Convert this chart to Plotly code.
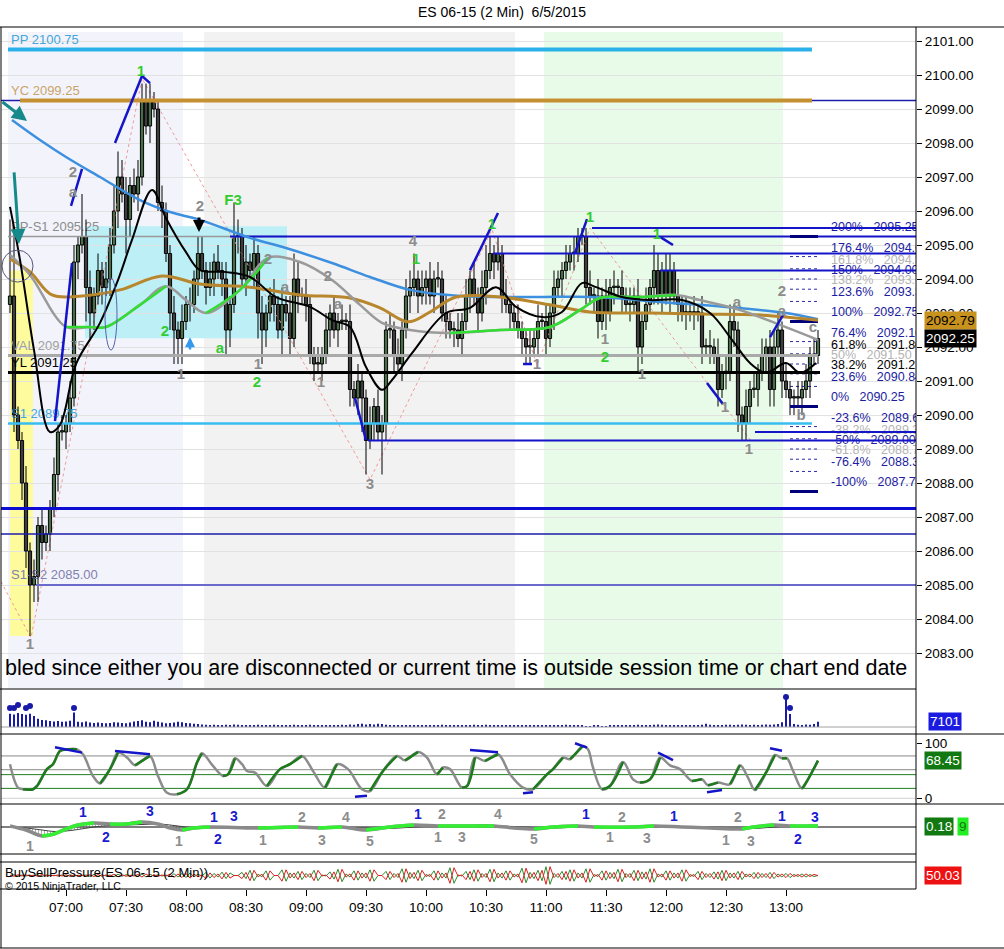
import pandas as pd
import plotly.graph_objects as go

DAY = "2015-06-05 "

# ---------------- price bars (2 min, first bar 06:32) ----------------
first_open = 2093.25
closes = [
    2093.5, 2090.0, 2089.25, 2088.0, 2086.0, 2085.0, 2085.25, 2086.75, 2086.25, 2086.5,
    2087.25, 2088.25, 2089.5, 2089.5, 2089.75, 2090.5, 2094.5, 2095.0, 2095.25, 2093.75,
    2093.0, 2093.5, 2094.25, 2093.75, 2094.0, 2095.0, 2096.0, 2097.0, 2096.5, 2095.75,
    2096.75, 2096.5, 2097.0, 2099.25, 2098.5, 2099.25, 2099.0, 2096.25, 2096.0, 2094.75,
    2093.0, 2092.5, 2092.25, 2092.75, 2093.25, 2093.25, 2094.0, 2094.75, 2094.25, 2093.75,
    2094.0, 2094.5, 2094.25, 2094.0, 2092.5, 2093.25, 2095.25, 2095.25, 2094.0, 2094.5,
    2094.25, 2094.75, 2093.0, 2092.5, 2093.0, 2093.5, 2093.25, 2092.5, 2093.25, 2093.0,
    2092.25, 2094.0, 2093.5, 2093.5, 2093.25, 2091.75, 2091.5, 2091.5, 2091.75, 2092.5,
    2093.0, 2092.5, 2092.75, 2092.75, 2092.75, 2090.75, 2090.5, 2091.0, 2090.5, 2089.25,
    2089.75, 2090.25, 2089.5, 2089.75, 2092.5, 2092.5, 2091.75, 2091.5, 2092.5, 2093.5,
    2093.75, 2094.0, 2093.5, 2093.75, 2094.0, 2093.5, 2094.0, 2094.0, 2093.0, 2092.75,
    2092.5, 2092.5, 2092.25, 2092.75, 2093.5, 2094.0, 2093.5, 2093.0, 2093.75, 2094.25,
    2094.75, 2094.5, 2094.75, 2093.5, 2093.25, 2093.0, 2092.75, 2092.5, 2092.25, 2092.0,
    2092.0, 2092.25, 2092.75, 2092.75, 2092.25, 2093.0, 2093.75, 2094.0, 2094.25, 2094.5,
    2094.75, 2094.75, 2095.25, 2095.25, 2093.75, 2093.5, 2093.5, 2092.75, 2093.5, 2093.0,
    2093.75, 2093.75, 2093.75, 2093.5, 2093.25, 2093.25, 2093.5, 2092.0, 2092.75, 2093.25,
    2093.75, 2094.25, 2093.5, 2094.25, 2093.5, 2094.25, 2093.5, 2093.25, 2093.0, 2093.0,
    2093.0, 2093.0, 2093.0, 2092.0, 2092.0, 2092.0, 2091.75, 2090.75, 2091.25, 2091.25,
    2092.75, 2092.5, 2090.0, 2089.75, 2090.25, 2090.75, 2090.75, 2091.25, 2091.75, 2092.0,
    2090.75, 2092.0, 2092.5, 2091.0, 2090.75, 2090.5, 2090.5, 2090.5, 2090.75, 2091.0,
    2091.75, 2091.75, 2092.25,
]
# wick lengths in ticks (0.25)
upper_ticks = [
    9, 8, 1, 1, 2, 1, 2, 1, 2, 1,  1, 2, 1, 2, 1, 2, 2, 1, 5, 2,
    2, 1, 2, 1, 2, 2, 3, 3, 2, 2,  1, 2, 2, 2, 2, 2, 1, 1, 2, 1,
    1, 2, 1, 2, 1, 2, 1, 2, 2, 1,  2, 1, 2, 1, 2, 1, 4, 2, 1, 2,
    1, 2, 1, 2, 1, 1, 2, 1, 2, 1,  2, 3, 2, 1, 2, 1, 1, 2, 1, 2,
    1, 2, 1, 2, 1, 2, 1, 2, 1, 1,  2, 1, 2, 1, 1, 2, 1, 2, 1, 2,
    2, 3, 1, 2, 1, 2, 1, 2, 1, 2,  1, 1, 2, 1, 2, 1, 2, 1, 2, 3,
    2, 1, 2, 1, 2, 1, 1, 2, 1, 1,  2, 1, 2, 1, 2, 1, 2, 1, 1, 2,
    1, 2, 1, 1, 1, 2, 1, 2, 1, 2,  1, 2, 1, 2, 1, 2, 1, 2, 1, 2,
    1, 3, 2, 1, 2, 2, 1, 2, 1, 2,  1, 2, 1, 2, 1, 2, 1, 2, 1, 2,
    2, 2, 1, 1, 2, 1, 2, 1, 2, 1,  2, 2, 2, 1, 2, 1, 1, 2, 1, 2,
    1, 2, 1,
]
lower_ticks = [
    1, 2, 1, 2, 2, 6, 2, 3, 2, 1,  2, 1, 2, 1, 2, 1, 1, 2, 1, 4,
    3, 2, 1, 2, 1, 2, 1, 2, 1, 4,  2, 1, 2, 1, 1, 2, 1, 1, 2, 1,
    2, 4, 3, 3, 1, 2, 1, 2, 1, 2,  1, 2, 1, 2, 3, 2, 1, 2, 1, 2,
    1, 2, 3, 4, 2, 1, 2, 1, 3, 1,  2, 1, 2, 1, 2, 1, 2, 1, 2, 1,
    2, 1, 2, 1, 1, 2, 1, 2, 4, 4,  1, 2, 1, 5, 2, 1, 2, 1, 2, 1,
    2, 1, 2, 1, 2, 1, 2, 1, 1, 2,  1, 2, 1, 2, 1, 2, 1, 2, 1, 2,
    1, 2, 1, 2, 1, 2, 1, 1, 2, 2,  2, 1, 2, 1, 2, 1, 2, 1, 2, 1,
    1, 2, 1, 1, 2, 1, 2, 2, 1, 2,  1, 2, 1, 2, 1, 2, 1, 3, 2, 1,
    1, 2, 1, 2, 1, 2, 1, 2, 1, 2,  1, 2, 1, 2, 1, 2, 1, 2, 1, 2,
    1, 2, 2, 2, 2, 2, 1, 2, 1, 2,  2, 2, 1, 2, 1, 2, 2, 1, 2, 1,
    2, 1, 1,
]
volume = [
    18000, 17000, 19000, 17500, 16500, 18000, 15000, 11000, 9500, 9000,
    8000, 7500, 8000, 7000, 7500, 8500, 19500, 7000, 6500, 7500,
    6000, 5500, 6000, 5500, 5000, 5500, 6500, 6000, 5500, 5000,
    6000, 7500, 8000, 9000, 7000, 6500, 8500, 7000, 6000, 5000,
    5500, 6000, 7000, 6500, 5500, 5000, 4500, 4000, 3500, 3000,
    2500, 3000, 2500, 2000, 3000, 2500, 3500, 3000, 2500, 2000,
    2500, 2000, 3000, 2500, 2000, 2500, 3000, 2000, 2500, 2000,
    2500, 3000, 2500, 2000, 2500, 3000, 2500, 2000, 1500, 2000,
    2500, 2000, 2500, 3000, 2500, 3500, 3000, 4000, 4500, 3500,
    4000, 3500, 4500, 4000, 3000, 2500, 2000, 2500, 2000, 2500,
    2000, 2500, 2000, 1500, 2000, 2500, 2000, 2500, 3000, 2500,
    2000, 1500, 2000, 2500, 2000, 2500, 3000, 2500, 2000, 3000,
    2500, 2000, 1500, 2000, 2500, 2000, 1500, 2000, 2500, 2000,
    1500, 2000, 2500, 2000, 1500, 2000, 2500, 2000, 2500, 3000,
    2500, 2000, 1500, 2000, 1000, 500, 1500, 2000, 1000, 500,
    1500, 2000, 2500, 2000, 1500, 2000, 2500, 3000, 2500, 2000,
    2500, 3000, 3500, 3000, 2500, 2000, 2500, 2000, 1500, 2000,
    2500, 2000, 2500, 3000, 4500, 3000, 2500, 2000, 2500, 3000,
    3000, 2500, 3000, 3500, 3000, 2500, 3000, 2500, 3000, 3500,
    3000, 3500, 4000, 6500, 40500, 17500, 4000, 3000, 2500, 3500,
    3000, 4000, 7101,
]
vol_dot_t = ["06:32", "06:34", "06:36", "06:40", "06:42", "07:04", "13:00", "13:02"]
vol_dot_v = [25700, 25700, 29700, 25700, 28400, 25700, 40500, 25700]

bsp_buy = [
    50, 53, 47, 52, 48, 51, 49, 53, 46, 52, 49, 51, 48, 52, 47, 53, 48, 51, 49, 52,
    47, 54, 46, 53, 48, 52, 45, 55, 47, 53, 49, 52, 46, 56, 44, 55, 47, 53, 48, 52,
    45, 57, 44, 58, 42, 60, 45, 55, 48, 62, 40, 58, 44, 63, 38, 60, 50, 50, 62, 38,
    70, 30, 55, 45, 68, 32, 50, 50, 72, 28, 60, 40, 66, 34, 58, 42, 70, 30, 52, 48,
    64, 36, 74, 26, 56, 44, 68, 32, 60, 40, 72, 28, 50, 50, 66, 34, 58, 42, 76, 24,
    62, 38, 70, 30, 54, 46, 68, 32, 60, 40, 80, 20, 52, 48, 66, 34, 72, 28, 58, 42,
    74, 26, 60, 40, 68, 32, 56, 44, 78, 22, 62, 38, 70, 30, 84, 16, 58, 42, 66, 34,
    72, 28, 60, 40, 76, 24, 54, 46, 68, 32, 62, 38, 74, 26, 58, 42, 70, 30, 64, 36,
    76, 24, 56, 44, 68, 32, 60, 40, 72, 28, 54, 46, 66, 34, 58, 42, 64, 36, 70, 30,
    60, 40, 66, 34, 56, 44, 62, 38, 58, 42, 62, 38, 56, 44, 58, 42, 54, 46, 56, 44,
    54, 46, 50,
]

# ---------------- moving averages ----------------
ma_blue_t = ["06:33", "06:47", "07:00", "07:17", "07:37", "07:52", "08:07", "08:32", "08:50", "09:13",
             "09:32", "09:52", "10:18", "10:52", "11:25", "11:58", "12:30", "13:00", "13:16"]
ma_blue_p = [2098.68, 2098.09, 2097.59, 2097.0, 2096.32, 2095.97, 2095.74, 2095.21, 2094.91, 2094.47,
             2094.06, 2093.68, 2093.5, 2093.47, 2093.47, 2093.32, 2093.18, 2093.0, 2092.82]
ma_gold_t = ["06:32", "06:42", "06:53", "07:08", "07:27", "07:48", "08:07", "08:32", "08:57", "09:22",
             "09:37", "09:51", "10:02", "10:15", "10:37", "11:02", "11:22", "11:52", "12:17", "12:47", "13:16"]
ma_gold_p = [2094.59, 2094.21, 2093.53, 2093.5, 2093.68, 2094.09, 2093.85, 2093.76, 2093.53, 2093.44,
             2093.15, 2092.74, 2093.03, 2093.47, 2093.47, 2093.24, 2093.03, 2093.0, 2092.97, 2092.94, 2092.79]
ma_slow_t = ["06:32", "06:42", "07:00", "07:12", "07:20", "07:37", "07:50", "08:00", "08:10", "08:27",
             "08:41", "08:57", "09:13", "09:27", "09:38", "09:52", "10:12", "10:37", "11:02", "11:17",
             "11:27", "11:47", "12:05", "12:17", "12:37", "12:57", "13:16"]
ma_slow_p = [2094.71, 2094.12, 2092.59, 2092.59, 2092.59, 2093.24, 2093.79, 2093.38, 2093.0, 2093.68,
             2094.62, 2094.5, 2093.97, 2093.24, 2092.71, 2092.5, 2092.41, 2092.5, 2092.59, 2093.09,
             2093.44, 2093.47, 2093.53, 2093.38, 2093.09, 2092.65, 2092.21]
ma_fast_t = ["06:32", "06:37", "06:44", "06:52", "06:57", "07:05", "07:17", "07:26", "07:33", "07:43",
             "07:50", "08:00", "08:07", "08:19", "08:32", "08:45", "09:02", "09:13", "09:22", "09:30",
             "09:38", "09:43", "09:53", "10:10", "10:22", "10:35", "10:45", "10:58", "11:08", "11:18",
             "11:25", "11:38", "11:52", "12:08", "12:22", "12:33", "12:42", "12:50", "13:00", "13:07", "13:15"]
ma_fast_p = [2096.12, 2094.56, 2091.91, 2089.5, 2089.71, 2091.5, 2092.71, 2093.97, 2095.15, 2096.62,
             2095.79, 2094.79, 2094.26, 2094.21, 2094.06, 2093.47, 2093.18, 2092.79, 2092.59, 2091.41,
             2090.74, 2091.03, 2091.82, 2093.0, 2093.15, 2093.76, 2093.18, 2092.88, 2093.03, 2093.88,
             2093.76, 2093.47, 2093.38, 2093.38, 2093.0, 2092.21, 2091.53, 2091.24, 2091.53, 2091.24, 2091.53]

# ---------------- horizontal levels ----------------
lvl_price = [2099.25, 2100.75, 2099.25, 2095.25, 2095.25, 2094.75, 2095.5, 2094.25, 2089.25, 2089.5,
             2089.75, 2091.75, 2091.25, 2087.25, 2086.5, 2085.0]
lvl_t0 = ["06:27:30", "06:31", "06:37", "06:31", "08:22", "10:33:30", "11:23", "11:57", "09:31", "12:44:30",
          "06:31", "06:31", "06:31", "06:27:30", "06:27:30", "06:45"]
lvl_t1 = ["14:05", "13:13", "13:13", "08:50:30", "14:05", "14:05", "14:05", "14:05", "14:05", "14:05",
          "13:13", "13:16", "13:17", "14:05", "14:05", "14:05"]
lvl_kind = ["navy_thin", "pp", "yc", "pps1", "navy", "navy", "navy", "navy", "navy", "navy",
            "s1", "val", "yl", "navy_thick", "navy_thin", "s2"]

lvl_lab_text = ["PP 2100.75", "YC 2099.25", "PP-S1 2095.25", "VAL 2091.75", "YL 2091.25", "S1 2089.75", "S1-S2 2085.00"]
lvl_lab_price = [2100.75, 2099.25, 2095.25, 2091.75, 2091.25, 2089.75, 2085.0]
lvl_lab_kind = ["pp", "yc", "pps1", "val", "yl", "s1", "s2"]

# fibonacci block on the right
fib_pct = ["200%", "176.4%", "161.8%", "150%", "138.2%", "123.6%", "100%", "76.4%", "61.8%", "50%",
           "38.2%", "23.6%", "0%", "-23.6%", "-38.2%", "-50%", "-61.8%", "-76.4%", "-100%"]
fib_level = [2095.25, 2094.66, 2094.30, 2094.00, 2093.70, 2093.34, 2092.75, 2092.16, 2091.80, 2091.50,
             2091.21, 2090.84, 2090.25, 2089.66, 2089.30, 2089.00, 2088.70, 2088.34, 2087.75]

# shaded sessions
region_t0 = ["06:31", "08:09", "10:59"]
region_t1 = ["07:58:30", "10:44:30", "12:58:30"]
region_kind = ["lavender", "grey", "green"]

# swing trend segments (navy)
seg_t0 = ["07:24:30", "07:38", "07:02:30", "06:54:30", "10:22", "11:14:30", "09:24:30", "10:48:30", "11:57", "12:20:30", "12:52"]
seg_p0 = [2098.0, 2099.97, 2096.15, 2089.82, 2094.26, 2094.76, 2090.5, 2091.5, 2095.24, 2090.94, 2092.29]
seg_t1 = ["07:38", "07:42", "07:08", "07:03", "10:36", "11:20:30", "09:30", "10:53", "12:03:30", "12:28:30", "12:58:30"]
seg_p1 = [2099.97, 2099.76, 2097.24, 2094.47, 2095.94, 2095.76, 2089.26, 2091.5, 2095.0, 2090.32, 2092.94]

zig_t = ["06:27:30", "06:42:30", "07:38", "09:32", "10:33", "10:55:30", "11:22", "12:43"]
zig_p = [2085.1, 2083.45, 2099.9, 2088.1, 2095.45, 2091.47, 2095.5, 2089.2]

lab_t = ["07:37:30", "07:03:30", "07:03:30", "08:07", "08:23:30", "08:41", "08:49:30", "09:11", "09:16", "07:49:30",
         "08:17", "07:57:30", "08:36", "08:35:30", "09:07:30", "09:32", "09:53:30", "09:55", "10:33", "10:55:30",
         "11:22", "11:29:30", "11:29:30", "11:48", "11:55:30", "12:29:30", "12:41:30", "12:35:30", "12:58", "12:58",
         "13:13:30", "13:07:30", "06:42"]
lab_p = [2100.09, 2097.12, 2096.53, 2096.12, 2096.29, 2094.56, 2093.74, 2094.06, 2093.24, 2092.44,
         2091.94, 2091.18, 2091.47, 2090.94, 2090.94, 2087.94, 2095.09, 2094.56, 2095.59, 2091.47,
         2095.79, 2092.21, 2091.68, 2091.18, 2095.29, 2090.21, 2088.97, 2093.29, 2093.62, 2093.03,
         2092.56, 2089.97, 2083.24]
lab_s = ["1", "2", "a", "2", "F3", "2", "a", "2", "a", "2", "a", "1", "1", "2", "1", "3", "4", "1", "1", "1",
         "1", "1", "2", "1", "1", "1", "1", "a", "2", "a", "c", "b", "1"]
lab_k = ["g", "n", "n", "n", "g", "n", "n", "n", "n", "g", "g", "n", "n", "g", "n", "n", "n", "g", "g", "n",
         "g", "n", "g", "n", "g", "n", "n", "n", "n", "n", "n", "n", "n"]

arrow_head_t = ["06:40:30", "06:36:30", "08:06:30", "08:02"]
arrow_head_p = [2098.65, 2095.03, 2095.38, 2092.29]
arrow_tail_t = ["06:27:30", "06:34", "08:06:30", "08:02"]
arrow_tail_p = [2099.24, 2097.18, 2095.85, 2091.88]
arrow_kind = ["teal", "teal", "black", "blue"]

# ---------------- oscillator panel ----------------
osc_t = ["06:32", "06:36", "06:38:30", "06:43:30", "06:45:30", "06:50:30", "06:53:30", "06:57", "07:00:30", "07:05:30",
         "07:08:30", "07:13:30", "07:17", "07:22", "07:26", "07:30:30", "07:34:30", "07:38", "07:42", "07:46",
         "07:50:30", "07:55:30", "08:00:30", "08:05:30", "08:08", "08:13:30", "08:18:30", "08:21", "08:24:30", "08:28",
         "08:30:30", "08:34:30", "08:40:30", "08:47", "08:52", "08:58", "09:03:30", "09:09:30", "09:15:30", "09:21",
         "09:28", "09:32", "09:38:30", "09:45:30", "09:49:30", "09:56", "10:00:30", "10:05:30", "10:08:30", "10:12",
         "10:18", "10:20:30", "10:24:30", "10:29:30", "10:36", "10:42", "10:48:30", "10:53:30", "11:00:30", "11:03:30",
         "11:08:30", "11:12", "11:18:30", "11:21", "11:23:30", "11:28", "11:32", "11:38:30", "11:43:30", "11:47",
         "11:52", "11:57", "12:02", "12:07", "12:13", "12:18", "12:21", "12:26", "12:32", "12:37",
         "12:41", "12:44:30", "12:50:30", "12:54:30", "12:58", "13:00:30", "13:03:30", "13:08", "13:11", "13:16"]
osc_v = [61.8, 19.4, 16.4, 16.4, 22.4, 53, 62, 86, 89, 89,
         80, 40.6, 27, 53, 83, 74, 60, 68, 77, 40.6,
         10, 7.3, 16.4, 65, 81.8, 58.8, 40.6, 43.6, 72.7, 62,
         49.7, 46.7, 22.4, 53, 62, 77, 49.7, 19.4, 61.8, 53,
         16.4, 13.3, 49.7, 77, 69, 84, 74, 43.6, 56, 53,
         19.4, 22, 74, 68, 80, 43.6, 19.4, 16.4, 43.6, 53,
         74, 71, 95, 89, 56, 16.4, 22.4, 66, 34.5, 28.5,
         34.5, 74, 60, 53, 31.5, 34.5, 23.6, 28.5, 25.5, 60,
         37.6, 15, 50, 78.8, 72.7, 72.7, 50, 17.6, 34.5, 68.45]
osc_levels = [77, 52, 43, 18, 0]
osc_level_kind = ["grey", "grey", "green", "green", "faint"]
osd_t0 = ["06:54:30", "07:24:30", "09:24:30", "10:22", "10:48:30", "11:14:30", "11:56", "12:20:30", "12:52"]
osd_v0 = [92.7, 86, 3, 88, 9, 100, 83, 11, 91]
osd_t1 = ["07:08", "07:42", "09:30:30", "10:36", "10:53:30", "11:20:30", "12:03:30", "12:28", "12:58"]
osd_v1 = [83, 80, 4.7, 83.6, 11, 92, 69.6, 15, 86.5]

# ---------------- macd-like panel ----------------
macd_t = ["06:32", "06:40", "06:48", "06:54", "07:00", "07:06", "07:14", "07:22", "07:30", "07:38",
          "07:46", "07:52", "07:58", "08:04", "08:12", "08:36", "08:56", "09:06", "09:18", "09:30",
          "09:42", "09:54", "10:06", "10:18", "10:34", "10:44", "10:54", "11:04", "11:16", "11:24",
          "11:44", "11:54", "12:08", "12:22", "12:38", "12:44", "12:54", "13:02", "13:16"]
macd_v = [1, -3, -9, -7, -2, 2, 4, 3, 3, 5, 3, -1, -3, -1, 0, -1, 0, -1, 0, -3,
          0, 2, 1, 1, 1, -1, -2, 0, 1, 0, 0, 1, 0, -1, -2, 0, 2, 1, 1]
macd_sig = [0, -1, -3, -4.5, -4, -2.5, 0, 1.5, 2, 2.5, 3, 2, 0.5, -1, -1, -0.5, -0.5, -0.5, -0.5, -1,
            -1.5, 0, 1, 1, 1, 0.5, -0.5, -1, 0, 0.5, 0, 0, 0.5, 0, -1, -1.5, 0, 1, 1]
mlab_t = ["06:42", "07:08:30", "07:20", "07:42", "07:56:30", "08:14", "08:24", "08:16", "08:38:30", "08:58",
          "09:08", "09:20", "09:32", "09:56", "10:08", "10:06", "10:18", "10:36", "10:54", "11:20",
          "11:38", "11:32", "11:50:30", "12:04", "12:36", "12:30", "12:42:30", "12:58", "13:14:30", "13:06"]
mlab_v = [-20, 14, -11, 15, -15, 9, 10, -13, -14, 9, -14, 9, -15, 12, 12, -11, -11, 12, -13, 12,
          9, -11, -12, 10, 9, -14, -15, 10, 9, -13]
mlab_s = ["1", "1", "2", "3", "1", "1", "3", "2", "1", "2", "3", "4", "5", "1", "2", "1", "3", "4", "5", "1",
          "2", "1", "3", "1", "2", "1", "3", "1", "3", "2"]
mlab_k = ["n", "b", "b", "b", "n", "b", "b", "b", "n", "n", "n", "n", "n", "b", "n", "n", "n", "n", "n", "b",
          "n", "n", "n", "b", "n", "n", "n", "b", "b", "b"]

x_ticks = ["07:00", "07:30", "08:00", "08:30", "09:00", "09:30", "10:00", "10:30", "11:00", "11:30",
           "12:00", "12:30", "13:00"]

FONT = "Liberation Sans, Arial, sans-serif"
NAVY = "#1414c8"
GREEN_TXT = "#33cc33"
GREY_TXT = "#8c8c8c"

assert len(closes) == len(upper_ticks) == len(lower_ticks) == len(volume) == len(bsp_buy)


def when(lst):
    return [DAY + s for s in lst]


def px_x(px):
    return (px - 1) / 915.0


def px_y(py):
    return (889 - py) / 862.0


def runs(xs, ys, want_up):
    ox, oy = [], []
    inside = False
    for i in range(1, len(ys)):
        up = ys[i] >= ys[i - 1]
        if up == want_up:
            if not inside:
                if ox:
                    ox.append(None)
                    oy.append(None)
                ox.append(xs[i - 1])
                oy.append(ys[i - 1])
            ox.append(xs[i])
            oy.append(ys[i])
            inside = True
        else:
            inside = False
    return ox, oy


def segs(t0, v0, t1, v1):
    xs, ys = [], []
    for a, b, c, d in zip(t0, v0, t1, v1):
        xs += [DAY + a, DAY + c, None]
        ys += [b, d, None]
    return xs, ys


bar_times = pd.date_range(DAY + "06:32", periods=len(closes), freq="2min")
opens = [first_open] + closes[:-1]
highs = [max(o, c) + 0.25 * u for o, c, u in zip(opens, closes, upper_ticks)]
lows = [min(o, c) - 0.25 * d for o, c, d in zip(opens, closes, lower_ticks)]

P_MIN, P_MAX = 2081.971, 2101.412

fig = go.Figure()

# level labels (sit behind candles)
LAB_COL = {"pp": "#43a6dc", "yc": "#c9a46a", "pps1": "#8c8c8c", "val": "#a0a0a0",
           "yl": "#000000", "s1": "#43a6dc", "s2": "#8080b0"}
fig.add_trace(go.Scatter(
    x=[DAY + "06:32:30"] * len(lvl_lab_text), y=[p + 0.26 for p in lvl_lab_price], mode="text",
    text=lvl_lab_text, textposition="middle right",
    textfont=dict(family=FONT, size=13, color=[LAB_COL[k] for k in lvl_lab_kind]), hoverinfo="skip"))

# zigzag
fig.add_trace(go.Scatter(x=when(zig_t), y=zig_p, mode="lines",
                         line=dict(color="#f19a9a", width=1, dash="dot"), hoverinfo="skip"))

# fib block
THICK = {"200%", "100%", "0%", "-100%"}
GREY_FIB = {"161.8%", "138.2%", "50%", "-38.2%", "-61.8%"}
BLACK_FIB = {"61.8%", "38.2%"}
fx_thick, fy_thick, fx_dot, fy_dot = [], [], [], []
for pct, lv in zip(fib_pct, fib_level):
    if pct in THICK:
        fx_thick += [DAY + "13:02", DAY + "13:16", None]
        fy_thick += [lv, lv, None]
    else:
        fx_dot += [DAY + "13:02", DAY + "13:16", None]
        fy_dot += [lv, lv, None]
fig.add_trace(go.Scatter(x=fx_dot, y=fy_dot, mode="lines", line=dict(color="#2a2aa0", width=1, dash="dot"),
                         hoverinfo="skip"))
fib_cols = ["#b4b4b4" if p in GREY_FIB else ("#000000" if p in BLACK_FIB else "#1c1ca0") for p in fib_pct]
fig.add_trace(go.Scatter(
    x=[DAY + "13:22:30"] * len(fib_pct), y=[lv + 0.24 for lv in fib_level], mode="text",
    text=[f"{p}\u00a0\u00a0 {lv:.2f}" for p, lv in zip(fib_pct, fib_level)], textposition="middle right",
    textfont=dict(family=FONT, size=12.5, color=fib_cols), cliponaxis=True, hoverinfo="skip"))

# candles: wicks + bodies
wx, wy = [], []
for t, h, l in zip(bar_times, highs, lows):
    wx += [t, t, None]
    wy += [l, h, None]
fig.add_trace(go.Scatter(x=wx, y=wy, mode="lines", line=dict(color="#000000", width=1), hoverinfo="skip"))
body_base = [min(o, c) for o, c in zip(opens, closes)]
body_h = [max(abs(c - o), 0.04) for o, c in zip(opens, closes)]
body_col = ["#8fd98f" if c >= o else "#7a7a7a" for o, c in zip(opens, closes)]
fig.add_trace(go.Bar(x=bar_times, y=body_h, base=body_base, width=95000,
                     marker=dict(color=body_col, line=dict(color="#000000", width=1)), hoverinfo="skip"))

# level lines (drawn over the bars like in the chart)
LVL_STYLE = {
    "pp": ("#2ab1ea", 4), "yc": ("#c49030", 4), "navy_thin": ("#1c1caa", 1.3), "pps1": ("#999999", 1.5),
    "navy": (NAVY, 2), "navy_thick": ("#0c0cd2", 3), "s1": ("#38bdf0", 2.5), "val": ("#aaaaaa", 3),
    "yl": ("#000000", 3), "s2": ("#6a6acc", 2),
}
for p, a, b, k in zip(lvl_price, lvl_t0, lvl_t1, lvl_kind):
    col, w = LVL_STYLE[k]
    fig.add_trace(go.Scatter(x=[DAY + a, DAY + b], y=[p, p], mode="lines",
                             line=dict(color=col, width=w), hoverinfo="skip"))
fig.add_trace(go.Scatter(x=fx_thick, y=fy_thick, mode="lines", line=dict(color="#00007a", width=3),
                         hoverinfo="skip"))

# moving averages
fig.add_trace(go.Scatter(x=when(ma_blue_t), y=ma_blue_p, mode="lines",
                         line=dict(color="#3d8fe0", width=2.5, shape="spline"), hoverinfo="skip"))
fig.add_trace(go.Scatter(x=when(ma_gold_t), y=ma_gold_p, mode="lines",
                         line=dict(color="#b8862c", width=3, shape="spline"), hoverinfo="skip"))
fig.add_trace(go.Scatter(x=when(ma_slow_t), y=ma_slow_p, mode="lines",
                         line=dict(color="#9a9a9a", width=2.5, shape="spline"), hoverinfo="skip"))
gx, gy = runs(when(ma_slow_t), ma_slow_p, True)
fig.add_trace(go.Scatter(x=gx, y=gy, mode="lines",
                         line=dict(color="#33dd33", width=2.5, shape="spline"), hoverinfo="skip"))
fig.add_trace(go.Scatter(x=when(ma_fast_t), y=ma_fast_p, mode="lines",
                         line=dict(color="#000000", width=2, shape="spline"), hoverinfo="skip"))

# navy swing segments
sx, sy = segs(seg_t0, seg_p0, seg_t1, seg_p1)
fig.add_trace(go.Scatter(x=sx, y=sy, mode="lines", line=dict(color=NAVY, width=2.5), hoverinfo="skip"))

# swing labels
fig.add_trace(go.Scatter(
    x=when(lab_t), y=lab_p, mode="text", text=lab_s, textposition="middle center",
    textfont=dict(family=FONT, size=15, weight="bold",
                  color=[GREEN_TXT if k == "g" else GREY_TXT for k in lab_k]),
    hoverinfo="skip"))

# ---------- volume ----------
fig.add_trace(go.Scatter(x=[DAY + "06:27:30", DAY + "14:05"], y=[0, 0], yaxis="y2", mode="lines",
                         line=dict(color="#a0a0a0", width=1), hoverinfo="skip"))
fig.add_trace(go.Bar(x=bar_times, y=volume, yaxis="y2", width=50000, marker=dict(color="#1a1aa8", line_width=0),
                     hoverinfo="skip"))
fig.add_trace(go.Scatter(x=when(vol_dot_t), y=vol_dot_v, yaxis="y2", mode="markers",
                         marker=dict(color="#1a1aa8", size=6), hoverinfo="skip"))

# ---------- oscillator ----------
OSC_COL = {"grey": "#8a8a8a", "green": "#1f7f1f", "faint": "#d0d0d0"}
for v, k in zip(osc_levels, osc_level_kind):
    fig.add_trace(go.Scatter(x=[DAY + "06:27:30", DAY + "14:05"], y=[v, v], yaxis="y3", mode="lines",
                             line=dict(color=OSC_COL[k], width=1), hoverinfo="skip"))
fig.add_trace(go.Scatter(x=when(osc_t), y=osc_v, yaxis="y3", mode="lines",
                         line=dict(color="#8c8c8c", width=2.5, shape="spline"), hoverinfo="skip"))
ox, oy = runs(when(osc_t), osc_v, True)
fig.add_trace(go.Scatter(x=ox, y=oy, yaxis="y3", mode="lines",
                         line=dict(color="#1d7a1d", width=2.5, shape="spline"), hoverinfo="skip"))
dx, dy = segs(osd_t0, osd_v0, osd_t1, osd_v1)
fig.add_trace(go.Scatter(x=dx, y=dy, yaxis="y3", mode="lines", line=dict(color=NAVY, width=2.5),
                         hoverinfo="skip"))

# ---------- macd ----------
fig.add_trace(go.Scatter(x=[DAY + "06:27:30", DAY + "14:05"], y=[0, 0], yaxis="y4", mode="lines",
                         line=dict(color="#000000", width=1), hoverinfo="skip"))
fig.add_trace(go.Scatter(x=when(macd_t), y=macd_sig, yaxis="y4", mode="lines",
                         line=dict(color="#444444", width=1, shape="spline"), hoverinfo="skip"))
fig.add_trace(go.Scatter(x=when(macd_t), y=macd_v, yaxis="y4", mode="lines", fill="tonexty",
                         fillcolor="rgba(0,0,0,0)",
                         fillpattern=dict(shape="|", fgcolor="#555555", size=3, solidity=0.35),
                         line=dict(width=0, shape="spline"), hoverinfo="skip"))
fig.add_trace(go.Scatter(x=when(macd_t), y=macd_v, yaxis="y4", mode="lines",
                         line=dict(color="#8a8a8a", width=3.5, shape="spline"), hoverinfo="skip"))
mx, my = runs(when(macd_t), macd_v, True)
fig.add_trace(go.Scatter(x=mx, y=my, yaxis="y4", mode="lines",
                         line=dict(color="#33ee33", width=3.5, shape="spline"), hoverinfo="skip"))
fig.add_trace(go.Scatter(
    x=when(mlab_t), y=mlab_v, yaxis="y4", mode="text", text=mlab_s, textposition="middle center",
    textfont=dict(family=FONT, size=14, weight="bold",
                  color=["#1a1ad0" if k == "b" else GREY_TXT for k in mlab_k]),
    cliponaxis=True, hoverinfo="skip"))

# ---------- buy/sell pressure ----------
fig.add_trace(go.Scatter(x=bar_times, y=bsp_buy, yaxis="y5", mode="lines",
                         line=dict(color="#2e8b2e", width=1), hoverinfo="skip"))
fig.add_trace(go.Scatter(x=bar_times, y=[100 - b for b in bsp_buy], yaxis="y5", mode="lines",
                         line=dict(color="#e02020", width=1), hoverinfo="skip"))

# ---------- shapes ----------
REGION_COL = {"lavender": "#f3f4fb", "grey": "#f2f2f2", "green": "#e8fae8"}
shapes = []
for a, b, k in zip(region_t0, region_t1, region_kind):
    shapes.append(dict(type="rect", xref="x", yref="y", x0=DAY + a, x1=DAY + b, y0=P_MIN, y1=P_MAX - 0.15,
                       fillcolor=REGION_COL[k], line_width=0, layer="below"))
shapes.append(dict(type="rect", xref="x", yref="y", x0=DAY + "07:09:30", x1=DAY + "08:50:30",
                   y0=2092.26, y1=2095.55, fillcolor="#bdeff6", line_width=0, layer="below"))
shapes.append(dict(type="rect", xref="x", yref="y", x0=DAY + "06:32", x1=DAY + "06:43:30",
                   y0=2083.5, y1=2094.25, fillcolor="#fdfb9c", line_width=0, layer="below"))
shapes.append(dict(type="circle", xref="x", yref="y", x0=DAY + "06:28", x1=DAY + "06:43:30",
                   y0=2093.91, y1=2094.85, line=dict(color="#55557a", width=1)))
shapes.append(dict(type="circle", xref="x", yref="y", x0=DAY + "07:19:30", x1=DAY + "07:25:30",
                   y0=2091.91, y1=2094.03, line=dict(color="#5566aa", width=1)))


def hline(py, x0, x1, color="black", w=1):
    shapes.append(dict(type="line", xref="paper", yref="paper", x0=px_x(x0), x1=px_x(x1),
                       y0=px_y(py), y1=px_y(py), line=dict(color=color, width=w)))


def vline(px, y0, y1, color="black", w=1):
    shapes.append(dict(type="line", xref="paper", yref="paper", x0=px_x(px), x1=px_x(px),
                       y0=px_y(y0), y1=px_y(y1), line=dict(color=color, width=w)))


hline(27, 0, 1004)
hline(689, 0, 916)
hline(734, 0, 1004)
hline(804, 0, 1004)
hline(854, 0, 916)
hline(862, 0, 916)
hline(889, 0, 916)
hline(948, 0, 1004)
vline(1, 27, 948)
vline(916, 27, 889)

# ---------- annotations ----------
ann = []
ARROW_COL = {"teal": "#168a8a", "black": "#000000", "blue": "#3399ee"}
for ht, hp, tt, tp, k in zip(arrow_head_t, arrow_head_p, arrow_tail_t, arrow_tail_p, arrow_kind):
    ann.append(dict(x=DAY + ht, y=hp, ax=DAY + tt, ay=tp, xref="x", yref="y", axref="x", ayref="y",
                    showarrow=True, arrowhead=2, arrowsize=1 if k == "teal" else 0.8,
                    arrowwidth=3 if k != "blue" else 2.5, arrowcolor=ARROW_COL[k], text=""))


def note(text, px, py, size, anchor="left", color="black"):
    ann.append(dict(x=px_x(px), y=px_y(py), xref="paper", yref="paper", showarrow=False,
                    xanchor=anchor, yanchor="middle", text=text,
                    font=dict(family=FONT, size=size, color=color)))


note("ES 06-15 (2 Min)\u00a0 6/5/2015", 502, 12, 14, anchor="center")
note("bled since either you are disconnected or current time is outside session time or chart end date",
     3, 668, 21.5)
note("BuySellPressure(ES 06-15 (2 Min))", 3, 872, 13)
note("\u00a9 2015 NinjaTrader, LLC", 3, 886, 10.5)


def tag(text, yref, y, bg, fg, x=924):
    ann.append(dict(x=px_x(x), y=y, xref="paper", yref=yref, showarrow=False, xanchor="left",
                    yanchor="middle", text=text, bgcolor=bg, borderpad=1,
                    font=dict(family=FONT, size=13.5, color=fg)))


tag("2092.79", "y", closes[-1] + 0.54, "#c8921e", "#000000")
tag("2092.25", "y", closes[-1], "#000000", "#ffffff")
tag("7101", "y2", volume[-1], "#1a1ae0", "#ffffff", x=928)
tag("68.45", "y3", osc_v[-1], "#127812", "#ffffff")
tag("0.18", "y4", 0.8, "#127812", "#ffffff")
tag("9", "y4", 0.8, "#22ee22", "#127812", x=957)
tag("50.03", "y5", 50, "#ee1111", "#ffffff")

fig.update_layout(
    width=1004, height=949, margin=dict(l=1, r=88, t=27, b=60),
    paper_bgcolor="white", plot_bgcolor="white", showlegend=False,
    font=dict(family=FONT, size=13, color="black"),
    shapes=shapes, annotations=ann, barmode="overlay",
    xaxis=dict(type="date", range=[DAY + "06:27:30", DAY + "14:05"], anchor="y5", tickformat="%H:%M",
               tickvals=when(x_ticks), ticks="outside", ticklen=6, tickcolor="black",
               showgrid=False, zeroline=False, showline=False, rangeslider=dict(visible=False),
               tickfont=dict(family=FONT, size=13.5)),
    yaxis=dict(domain=[px_y(688), 1], range=[P_MIN, P_MAX], side="right", anchor="x",
               tickvals=list(range(2083, 2102)), tickformat=".2f", ticks="outside", ticklen=5,
               tickcolor="black", showgrid=True, gridcolor="#e2e2e2", zeroline=False,
               tickfont=dict(family=FONT, size=13.5)),
    yaxis2=dict(domain=[px_y(734), px_y(690)], range=[-9459, 50000], side="right", anchor="x",
                showticklabels=False, showgrid=False, zeroline=False),
    yaxis3=dict(domain=[px_y(804), px_y(734)], range=[-10.4, 116.9], side="right", anchor="x",
                tickvals=[0, 100], ticks="outside", ticklen=5, tickcolor="black", showgrid=False,
                zeroline=False, tickfont=dict(family=FONT, size=13.5)),
    yaxis4=dict(domain=[px_y(854), px_y(804)], range=[-27, 23], side="right", anchor="x",
                showticklabels=False, showgrid=False, zeroline=False),
    yaxis5=dict(domain=[0, px_y(862)], range=[-2, 102], side="right", anchor="x",
                showticklabels=False, showgrid=False, zeroline=False),
)

fig.write_html("out.html", config={"displayModeBar": False},
               post_script="document.body.style.margin='0px';")
